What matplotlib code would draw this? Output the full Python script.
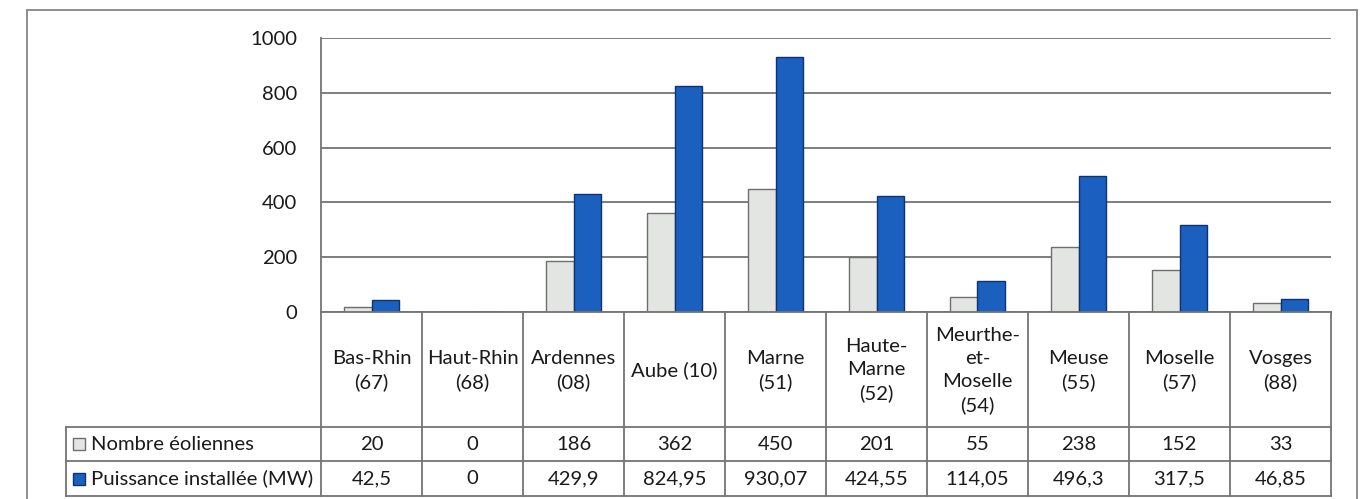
import matplotlib
matplotlib.use("Agg")
import matplotlib.pyplot as plt
import matplotlib.transforms as mtransforms
from matplotlib.patches import Rectangle
from matplotlib.lines import Line2D

# Departements of the Grand Est region
departements = [
    "Bas-Rhin\n(67)", "Haut-Rhin\n(68)", "Ardennes\n(08)", "Aube (10)",
    "Marne\n(51)", "Haute-\nMarne\n(52)", "Meurthe-\net-\nMoselle\n(54)",
    "Meuse\n(55)", "Moselle\n(57)", "Vosges\n(88)",
]
nombre_eoliennes = [20, 0, 186, 362, 450, 201, 55, 238, 152, 33]
puissance_mw = [42.5, 0, 429.9, 824.95, 930.07, 424.55, 114.05, 496.3, 317.5, 46.85]
series_labels = ["Nombre éoliennes", "Puissance installée (MW)"]
y_ticks = [0, 200, 400, 600, 800, 1000]

W, H = 1367, 499
plt.rcParams["font.family"] = ["Lato", "DejaVu Sans"]
TXT = "#1a1a1a"
LINE = "#747474"
GREY_FACE, GREY_EDGE = "#e3e5e3", "#6e6e6e"
BLUE_FACE, BLUE_EDGE = "#1b5fbf", "#0c3470"
FS = 14.6


def fx(px):
    return px / W


def fy(py):
    return 1 - py / H


fig = plt.figure(figsize=(W / 100, H / 100), dpi=100)
fig.patch.set_facecolor("white")

# outer chart frame
fig.add_artist(Rectangle((fx(27), fy(520)), fx(1357) - fx(27), fy(10) - fy(520),
                         transform=fig.transFigure, fill=False,
                         edgecolor="#8e8e8e", linewidth=1.4))

ax = fig.add_axes([fx(321), fy(312), fx(1331) - fx(321), fy(38) - fy(312)])
ax.set_xlim(-0.5, len(departements) - 0.5)
ax.set_ylim(0, 1000)
ax.set_yticks(y_ticks)
ax.set_yticklabels([str(t) for t in y_ticks], fontsize=FS, color=TXT)
ax.tick_params(axis="y", length=0, pad=17)
ax.set_xticks([])
ax.yaxis.grid(True, color=LINE, linewidth=1.3)
ax.set_axisbelow(True)
for side in ("top", "right", "bottom"):
    ax.spines[side].set_visible(False)
ax.spines["left"].set_color(LINE)
ax.spines["left"].set_linewidth(1.3)

x = list(range(len(departements)))
w = 0.27
ax.bar([i - w / 2 for i in x], nombre_eoliennes, w, color=GREY_FACE,
       edgecolor=GREY_EDGE, linewidth=1.0, zorder=3)
ax.bar([i + w / 2 for i in x], puissance_mw, w, color=BLUE_FACE,
       edgecolor=BLUE_EDGE, linewidth=1.0, zorder=3)

# data table below the axis
T = mtransforms.blended_transform_factory(ax.transData, fig.transFigure)
y_top, y_head, y_r1, y_r2 = 312, 427, 461, 496
for b in range(len(departements) + 1):
    fig.add_artist(Line2D([b - 0.5, b - 0.5], [fy(y_top), fy(y_r2)],
                          transform=T, color=LINE, linewidth=1.3))
fig.add_artist(Line2D([fx(321), fx(1331)], [fy(y_top), fy(y_top)],
                      transform=fig.transFigure, color=LINE, linewidth=1.3))
for py in (y_head, y_r1, y_r2):
    fig.add_artist(Line2D([fx(66), fx(1331)], [fy(py), fy(py)],
                          transform=fig.transFigure, color=LINE, linewidth=1.3))
fig.add_artist(Line2D([fx(66), fx(66)], [fy(y_head), fy(y_r2)],
                      transform=fig.transFigure, color=LINE, linewidth=1.3))


def fmt(v):
    return f"{v:g}".replace(".", ",")


for i, name in enumerate(departements):
    fig.text(i, fy((y_top + y_head) / 2 + 1), name, transform=T, ha="center",
             va="center", multialignment="center", fontsize=FS, color=TXT,
             linespacing=1.42)
    fig.text(i, fy((y_head + y_r1) / 2), fmt(nombre_eoliennes[i]), transform=T,
             ha="center", va="center", fontsize=FS, color=TXT)
    fig.text(i, fy((y_r1 + y_r2) / 2), fmt(puissance_mw[i]), transform=T,
             ha="center", va="center", fontsize=FS, color=TXT)

# series keys in the first table column
for (py0, py1), label, fc, ec in zip(((y_head, y_r1), (y_r1, y_r2)), series_labels,
                                     (GREY_FACE, BLUE_FACE), (GREY_EDGE, BLUE_EDGE)):
    cy = (py0 + py1) / 2
    fig.add_artist(Rectangle((fx(73), fy(cy + 6)), fx(12), 12 / H,
                             transform=fig.transFigure, facecolor=fc,
                             edgecolor=ec, linewidth=1.0))
    fig.text(fx(91), fy(cy), label, ha="left", va="center", fontsize=FS, color=TXT)

fig.savefig("out.png", dpi=100, facecolor="white")
